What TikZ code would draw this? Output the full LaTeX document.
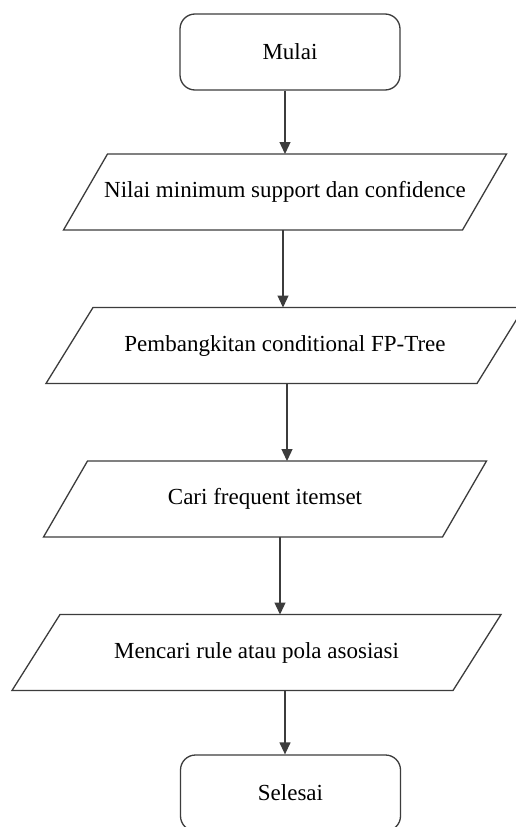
\documentclass[tikz,border=0pt]{standalone}
\usepackage{fontspec}
\setmainfont{Liberation Serif}
\usetikzlibrary{arrows.meta}
\definecolor{linec}{HTML}{3C3C3C}
\begin{document}
\begin{tikzpicture}[x=1pt,y=-1pt,
  lbl/.style={inner sep=0pt, outer sep=0pt, font=\fontsize{23}{27}\selectfont, text=black},
  term/.style={draw=linec, line width=1.3pt, rounded corners=15pt, inner sep=0pt,
    minimum width=220pt, minimum height=76pt, font=\fontsize{23}{27}\selectfont},
  io/.style={inner sep=0pt, outer sep=0pt, minimum height=76pt, font=\fontsize{23}{27}\selectfont},
  ioline/.style={draw=linec, line width=1.3pt, line join=miter},
  arr/.style={draw=linec, line width=1.3pt, -{Triangle[width=11pt,length=12pt]}}
]
\useasboundingbox (0,0) rectangle (515,827);
\fill[white] (0,0) rectangle (515,827);

% Terminals
\node[term] (start) at (290,52) {Mulai};
\node[term] (stop) at (290.5,793) {Selesai};

% Input/output boxes (body = edge length, slant drawn separately)
\node[io, minimum width=399pt] (b1) at (285,192) {Nilai minimum support dan confidence};
\node[io, minimum width=431pt] (b2) at (285,345.5) {Pembangkitan conditional FP-Tree};
\node[io, minimum width=399pt] (b3) at (265,499) {Cari frequent itemset};
\node[io, minimum width=441pt] (b4) at (256.5,652.5) {Mencari rule atau pola asosiasi};

\draw[ioline] ([xshift=22pt]b1.north west) -- ([xshift=22pt]b1.north east)
  -- ([xshift=-22pt]b1.south east) -- ([xshift=-22pt]b1.south west) -- cycle;
\draw[ioline] ([xshift=23.5pt]b2.north west) -- ([xshift=23.5pt]b2.north east)
  -- ([xshift=-23.5pt]b2.south east) -- ([xshift=-23.5pt]b2.south west) -- cycle;
\draw[ioline] ([xshift=22pt]b3.north west) -- ([xshift=22pt]b3.north east)
  -- ([xshift=-22pt]b3.south east) -- ([xshift=-22pt]b3.south west) -- cycle;
\draw[ioline] ([xshift=24pt]b4.north west) -- ([xshift=24pt]b4.north east)
  -- ([xshift=-24pt]b4.south east) -- ([xshift=-24pt]b4.south west) -- cycle;

% Connectors
\draw[arr] ([xshift=-5pt]start.south) -- (b1.north);
\draw[arr] ([xshift=-2pt]b1.south) -- ([xshift=-2pt]b2.north);
\draw[arr] ([xshift=2pt]b2.south) -- ([xshift=22pt]b3.north);
\draw[arr] ([xshift=15pt]b3.south) -- ([xshift=23.5pt]b4.north);
\draw[arr] ([xshift=28.5pt]b4.south) -- ([xshift=-5.5pt]stop.north);
\end{tikzpicture}
\end{document}
